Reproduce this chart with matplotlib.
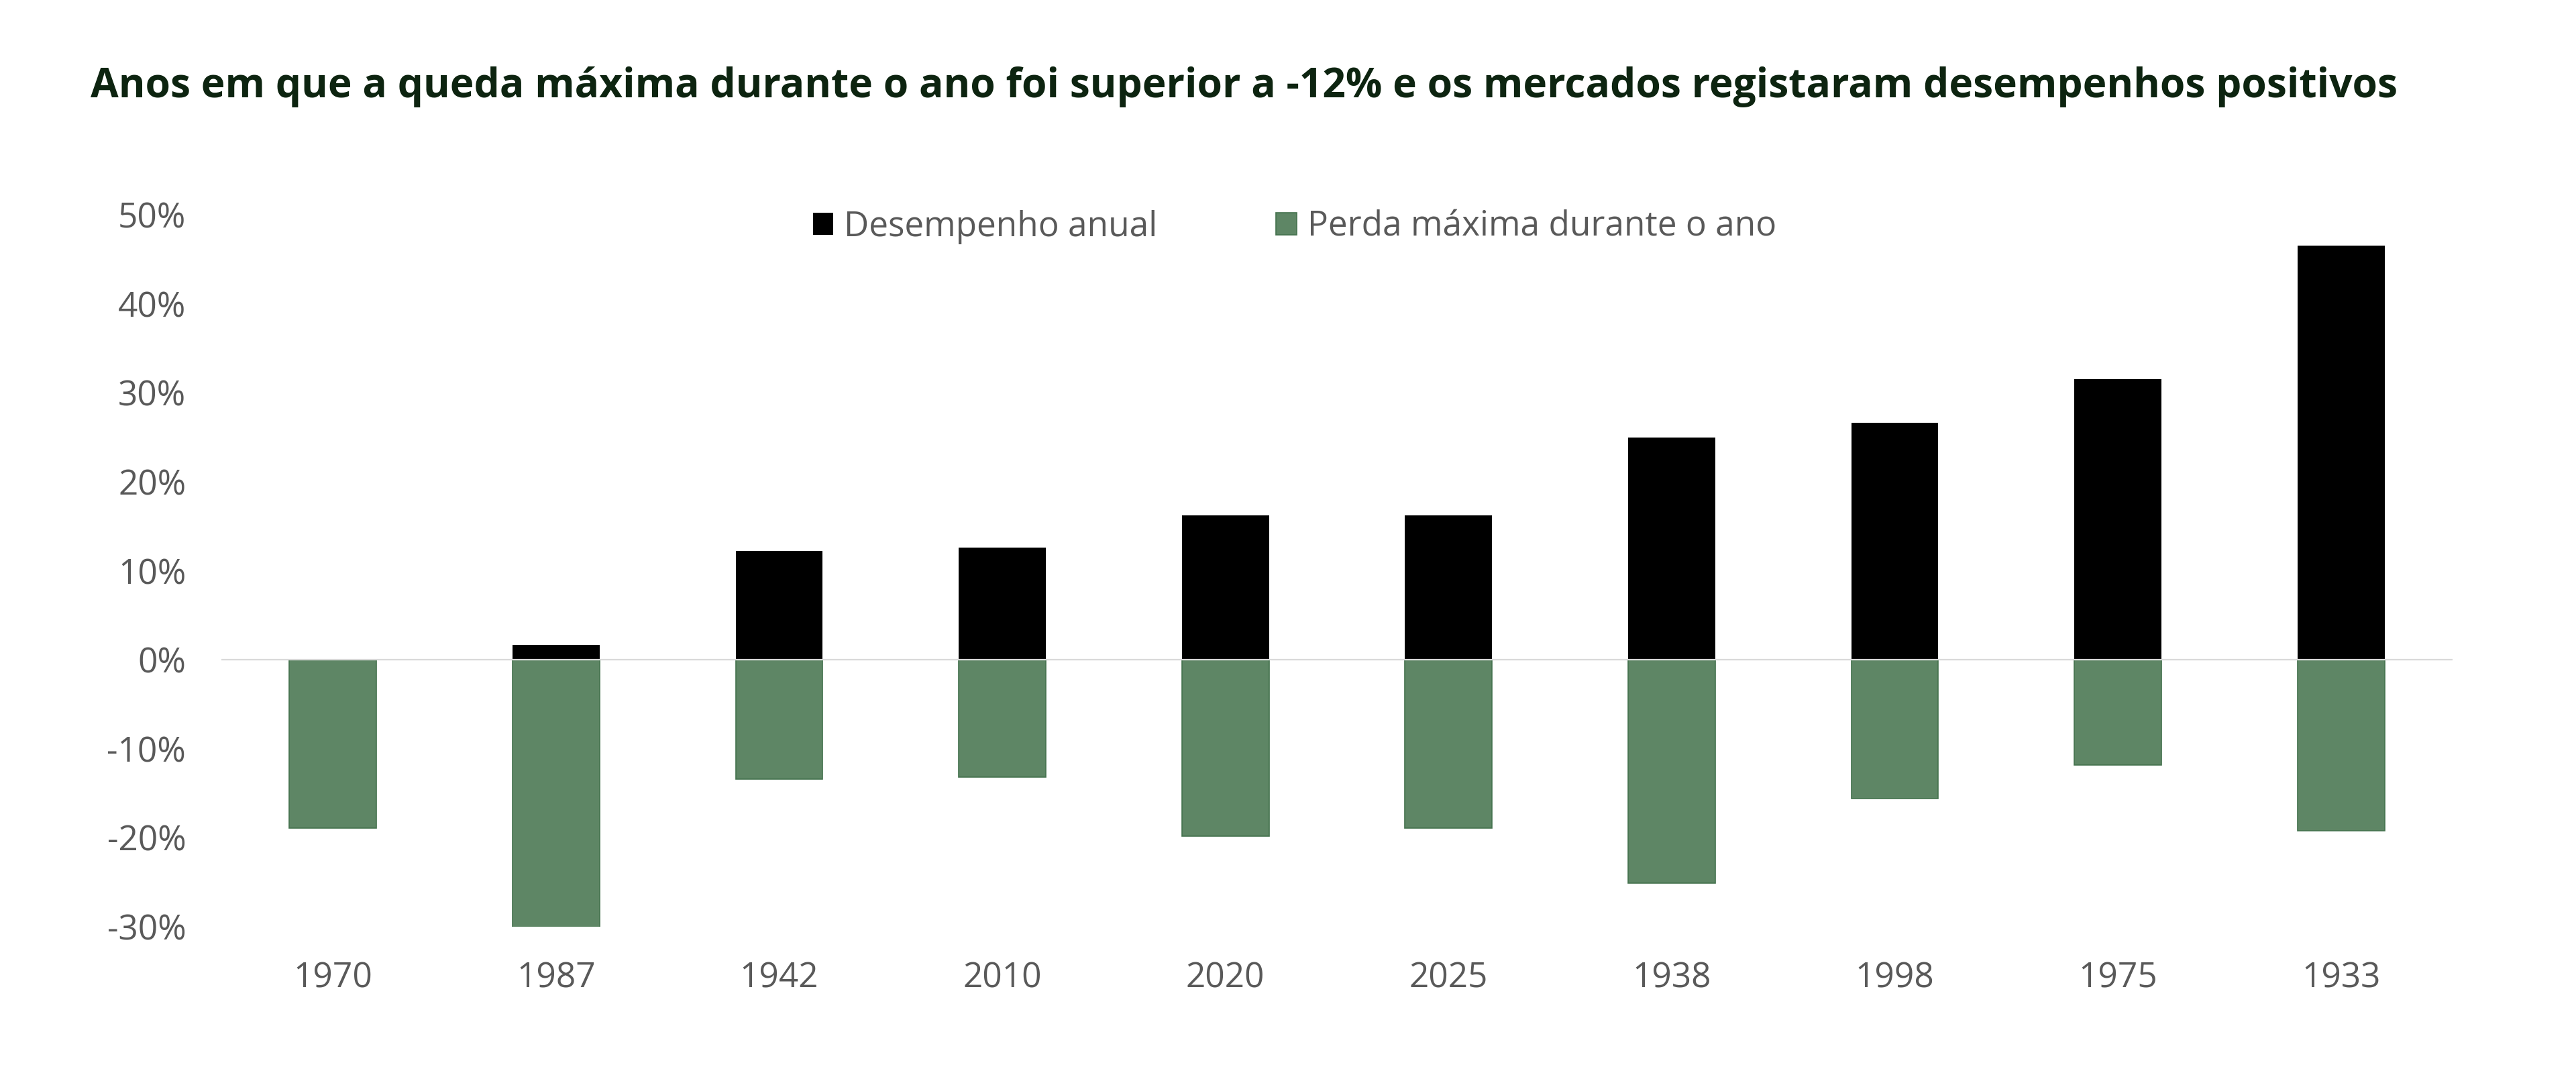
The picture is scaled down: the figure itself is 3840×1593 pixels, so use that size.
import matplotlib
matplotlib.use("Agg")
import matplotlib.pyplot as plt
from matplotlib.patches import Patch
from matplotlib.ticker import FuncFormatter

years = ["1970", "1987", "1942", "2010", "2020", "2025", "1938", "1998", "1975", "1933"]
annual_perf = [0.0, 1.7, 12.2, 12.6, 16.2, 16.2, 25.0, 26.6, 31.5, 46.5]
max_drawdown = [-18.9, -30.1, -13.4, -13.2, -19.8, -18.9, -25.1, -15.6, -11.8, -19.2]
series_names = ["Desempenho anual", "Perda máxima durante o ano"]
title = "Anos em que a queda máxima durante o ano foi superior a -12% e os mercados registaram desempenhos positivos"

plt.rcParams['font.family'] = ['Open Sans', 'DejaVu Sans']

W, H = 3840, 1593
fig = plt.figure(figsize=(W / 100, H / 100), dpi=100)
ax = fig.add_axes([330 / W, 1 - 1381 / H, (3656 - 330) / W, (1381 - 320) / H])

black = "#000000"
green_face = "#5E8665"
green_edge = "#44724E"

x = list(range(len(years)))
ax.bar(x, annual_perf, width=0.39, color=black, edgecolor="none", zorder=2)
ax.bar(x, max_drawdown, width=0.39, color=green_face, edgecolor=green_edge, linewidth=1.2, zorder=2)
ax.axhline(0, color="#d9d9d9", linewidth=1.6, zorder=3)

ax.set_xlim(-0.5, len(years) - 0.5)
ax.set_ylim(-30, 50)
ax.set_yticks(range(-30, 51, 10))
ax.yaxis.set_major_formatter(FuncFormatter(lambda v, p: f"{int(v)}%"))
ax.set_xticks(x)
ax.set_xticklabels(years)
for s in ax.spines.values():
    s.set_visible(False)
ax.tick_params(axis="y", length=0, pad=38, labelsize=37, labelcolor="#595959")
ax.tick_params(axis="x", length=0, pad=37, labelsize=37, labelcolor="#595959")

handles = [Patch(facecolor=black, edgecolor="none"),
           Patch(facecolor=green_face, edgecolor=green_edge, linewidth=1.2)]
fig.legend(handles, series_names, loc="center", bbox_to_anchor=(1930 / W, 1 - 338 / H),
           ncol=2, frameon=False, fontsize=37, labelcolor="#595959",
           handlelength=0.6, handleheight=0.6, handletextpad=0.31, columnspacing=3.44,
           borderpad=0, borderaxespad=0)

fig.text(135 / W, 1 - 129 / H, title, ha="left", va="center", fontsize=43.6,
         fontweight="bold", color="#0d2410")

fig.savefig("out.png", dpi=100, facecolor="white")
